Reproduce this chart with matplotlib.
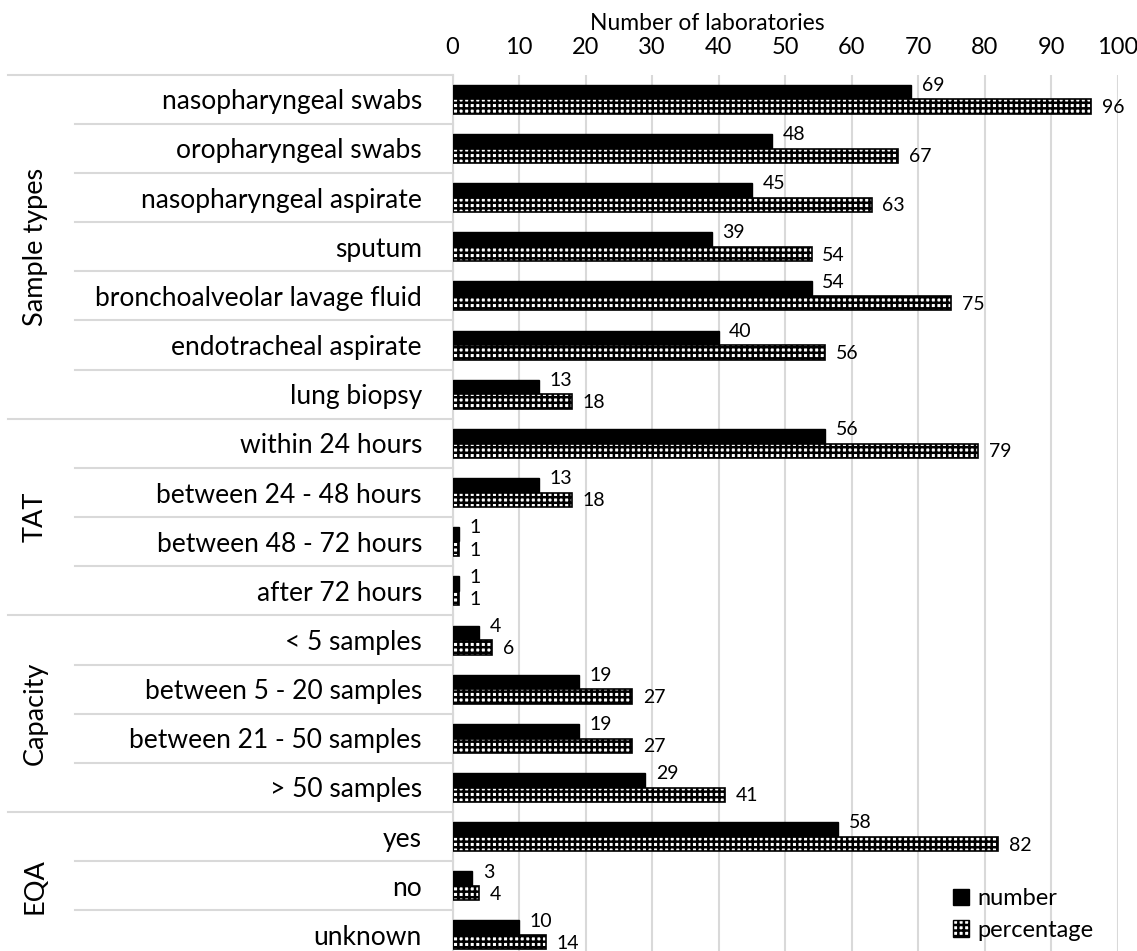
import matplotlib.pyplot as plt
from matplotlib.patches import Patch
import matplotlib.transforms as mtransforms

plt.rcParams['font.family'] = ['Lato', 'DejaVu Sans']
plt.rcParams['hatch.linewidth'] = 1.8

# data
categories = ['nasopharyngeal swabs', 'oropharyngeal swabs', 'nasopharyngeal aspirate',
              'sputum', 'bronchoalveolar lavage fluid', 'endotracheal aspirate', 'lung biopsy',
              'within 24 hours', 'between 24 - 48 hours', 'between 48 - 72 hours', 'after 72 hours',
              '< 5 samples', 'between 5 - 20 samples', 'between 21 - 50 samples', '> 50 samples',
              'yes', 'no', 'unknown']
number = [69, 48, 45, 39, 54, 40, 13, 56, 13, 1, 1, 4, 19, 19, 29, 58, 3, 10]
percentage = [96, 67, 63, 54, 75, 56, 18, 79, 18, 1, 1, 6, 27, 27, 41, 82, 4, 14]
groups = ['Sample types', 'TAT', 'Capacity', 'EQA']
group_sizes = [7, 4, 4, 3]
xticks = list(range(0, 101, 10))

fig = plt.figure(figsize=(11.37, 9.51), dpi=100)
ax = fig.add_axes([0.398, -0.009, 0.585, 0.9305])

n = len(categories)
ypos = list(range(n))
h = 0.29
ax.barh([y - 0.15 for y in ypos], number, height=h, color='black', edgecolor='black',
        linewidth=1, label='number', zorder=3)
ax.barh([y + 0.15 for y in ypos], percentage, height=h, color='white', edgecolor='black',
        hatch='+++', linewidth=1.2, label='percentage', zorder=3)

for y, v in zip(ypos, number):
    ax.text(v + 1.6, y - 0.28, str(v), va='center', ha='left', fontsize=14)
for y, v in zip(ypos, percentage):
    ax.text(v + 1.6, y + 0.17, str(v), va='center', ha='left', fontsize=14)

ax.set_xlim(0, 100)
ax.set_ylim(n - 0.5, -0.5)
ax.set_xticks(xticks)
ax.xaxis.tick_top()
ax.xaxis.set_label_position('top')
ax.set_xlabel('Number of laboratories', fontsize=16.5)
ax.xaxis.set_label_coords(0.383, 1.05)
ax.tick_params(axis='x', length=0, labelsize=17, pad=12)
ax.set_yticks(ypos)
ax.set_yticklabels(categories, fontsize=19)
ax.tick_params(axis='y', length=0, pad=22)
ax.grid(axis='x', color='#d9d9d9', linewidth=1.5, zorder=0)
ax.set_axisbelow(True)
for s in ['top', 'right', 'bottom']:
    ax.spines[s].set_visible(False)
ax.spines['left'].set_color('#d9d9d9')
ax.spines['left'].set_linewidth(1.5)

# row separators and group labels in the label area
trans = mtransforms.blended_transform_factory(ax.transAxes, ax.transData)
start = 0
for g, size in zip(groups, group_sizes):
    ax.plot([-0.669, 0], [start - 0.5, start - 0.5], color='#d9d9d9', lw=1.5,
            transform=trans, clip_on=False)
    for k in range(1, size):
        ax.plot([-0.568, 0], [start + k - 0.5, start + k - 0.5], color='#d9d9d9', lw=1.5,
                transform=trans, clip_on=False)
    ax.text(-0.627, start + (size - 1) / 2, g, rotation=90, va='center', ha='center',
            fontsize=19.5, transform=trans)
    start += size

ax.legend(handles=[Patch(facecolor='black', edgecolor='black', label='number'),
                   Patch(facecolor='white', edgecolor='black', hatch='+++', label='percentage')],
          loc='lower right', bbox_to_anchor=(0.985, 0.005), frameon=False, fontsize=17,
          handlelength=0.7, handleheight=0.7, handletextpad=0.35, labelspacing=0.45,
          borderaxespad=0.2)

fig.savefig('out.png', dpi=100)
